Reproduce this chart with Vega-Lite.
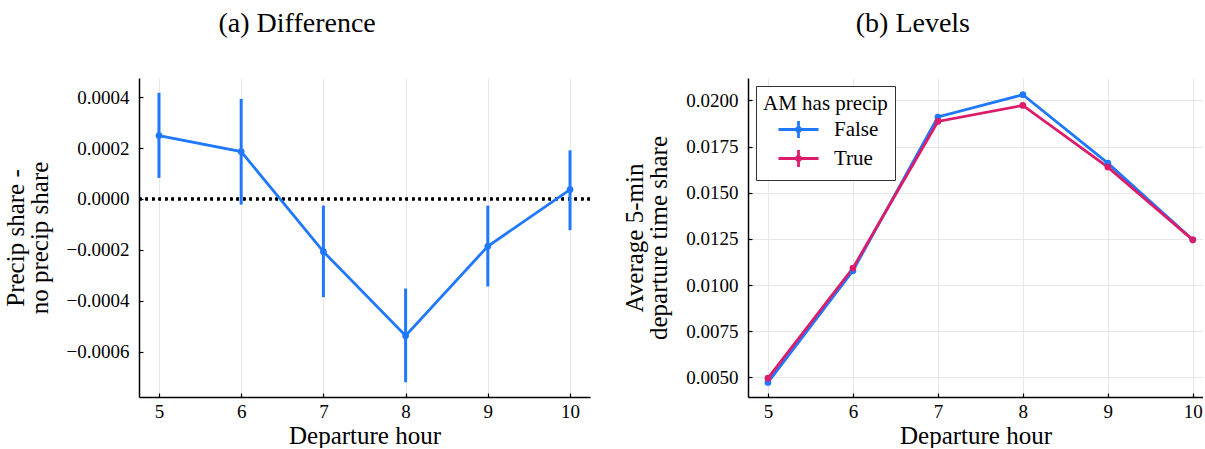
{
  "$schema": "https://vega.github.io/schema/vega-lite/v6.json",
  "description": "Departure hour shares: difference and levels by AM precipitation",
  "padding": {"left": 3, "top": 10, "right": 0, "bottom": 0},
  "spacing": 30,
  "resolve": {"scale": {"color": "independent"}, "legend": {"color": "independent"}},
  "datasets": {
    "diff": [
      {"hour": 5, "diff": 0.000249, "lo": 0.0000825, "hi": 0.000417},
      {"hour": 6, "diff": 0.000186, "lo": -0.0000223, "hi": 0.000393},
      {"hour": 7, "diff": -0.000207, "lo": -0.000386, "hi": -0.0000262},
      {"hour": 8, "diff": -0.000537, "lo": -0.00072, "hi": -0.000352},
      {"hour": 9, "diff": -0.000186, "lo": -0.000344, "hi": -0.0000262},
      {"hour": 10, "diff": 0.0000367, "lo": -0.000123, "hi": 0.000191}
    ],
    "levels": [
      {"hour": 5, "precip": "False", "share": 0.00473},
      {"hour": 6, "precip": "False", "share": 0.01078},
      {"hour": 7, "precip": "False", "share": 0.0191},
      {"hour": 8, "precip": "False", "share": 0.02031},
      {"hour": 9, "precip": "False", "share": 0.0166},
      {"hour": 10, "precip": "False", "share": 0.01245},
      {"hour": 5, "precip": "True", "share": 0.00496},
      {"hour": 6, "precip": "True", "share": 0.01092},
      {"hour": 7, "precip": "True", "share": 0.01886},
      {"hour": 8, "precip": "True", "share": 0.01973},
      {"hour": 9, "precip": "True", "share": 0.01639},
      {"hour": 10, "precip": "True", "share": 0.01245}
    ]
  },
  "hconcat": [
    {
      "title": "(a) Difference",
      "width": 451,
      "height": 319,
      "data": {"name": "diff"},
      "encoding": {
        "x": {
          "field": "hour",
          "type": "quantitative",
          "title": "Departure hour",
          "scale": {"domain": [4.757, 10.243], "nice": false, "zero": false},
          "axis": {"values": [5, 6, 7, 8, 9, 10], "format": "d"}
        }
      },
      "layer": [
        {
          "mark": {"type": "rule", "color": "black", "strokeWidth": 2.5, "strokeDash": [2.5, 4]},
          "encoding": {"y": {"datum": 0, "type": "quantitative"}, "x": {}}
        },
        {
          "mark": {"type": "rule", "color": "#1f78ff", "strokeWidth": 3},
          "encoding": {
            "y": {
              "field": "lo",
              "type": "quantitative",
              "title": ["Precip share -", "no precip share"],
              "scale": {"domain": [-0.000778, 0.000475], "nice": false},
              "axis": {"values": [-0.0006, -0.0004, -0.0002, 0, 0.0002, 0.0004], "format": ".4f"}
            },
            "y2": {"field": "hi"}
          }
        },
        {
          "mark": {"type": "line", "color": "#1f78ff", "strokeWidth": 2.8, "point": {"filled": true, "size": 45, "color": "#1f78ff"}},
          "encoding": {"y": {"field": "diff", "type": "quantitative"}}
        }
      ]
    },
    {
      "title": "(b) Levels",
      "width": 455,
      "height": 319,
      "data": {"name": "levels"},
      "encoding": {
        "x": {
          "field": "hour",
          "type": "quantitative",
          "title": "Departure hour",
          "scale": {"domain": [4.765, 10.12], "nice": false, "zero": false},
          "axis": {"values": [5, 6, 7, 8, 9, 10], "format": "d"}
        },
        "y": {
          "field": "share",
          "type": "quantitative",
          "title": ["Average 5-min", "departure time share"],
          "scale": {"domain": [0.003939, 0.021213], "nice": false, "zero": false},
          "axis": {"values": [0.005, 0.0075, 0.01, 0.0125, 0.015, 0.0175, 0.02], "format": ".4f"}
        },
        "color": {
          "field": "precip",
          "type": "nominal",
          "title": "AM has precip",
          "scale": {"domain": ["False", "True"], "range": ["#1f78ff", "#dc1c6a"]},
          "legend": {
            "orient": "top-left",
            "offset": 8,
            "symbolType": "M-2,0H2M0,-0.85V0.85M0.2,0A0.2,0.2,0,1,1,-0.2,0A0.2,0.2,0,1,1,0.2,0Z",
            "symbolSize": 400,
            "symbolOffset": 24,
            "symbolStrokeWidth": 2.8,
            "symbolFillColor": "transparent",
            "labelOffset": 24,
            "rowPadding": 0,
            "padding": 7,
            "strokeColor": "#333333",
            "fillColor": "white",
            "cornerRadius": 0,
            "titleFont": "Liberation Serif",
            "titleFontSize": 21,
            "titleFontWeight": "normal",
            "titleColor": "black",
            "titlePadding": 4,
            "labelFont": "Liberation Serif",
            "labelFontSize": 21,
            "labelColor": "black"
          }
        }
      },
      "layer": [
        {
          "mark": {"type": "line", "strokeWidth": 2.8}
        },
        {
          "mark": {"type": "point", "filled": true, "size": 45, "opacity": 1}
        }
      ]
    }
  ],
  "config": {
    "view": {"stroke": null},
    "font": "Liberation Serif",
    "title": {"font": "Liberation Serif", "fontSize": 28, "fontWeight": "normal", "color": "black", "offset": 40, "frame": "bounds"},
    "axis": {
      "domainColor": "black",
      "domainWidth": 1.5,
      "gridColor": "#e6e6e6",
      "gridWidth": 1,
      "tickColor": "black",
      "tickSize": -4,
      "tickWidth": 1.2,
      "labelFont": "Liberation Serif",
      "labelFontSize": 19,
      "labelColor": "black",
      "titleFont": "Liberation Serif",
      "titleFontSize": 25,
      "titleFontWeight": "normal",
      "titleColor": "black",
      "titleLineHeight": 24
    },
    "axisX": {"labelPadding": 9, "titlePadding": 2},
    "axisY": {"labelPadding": 14, "titlePadding": 14}
  }
}
